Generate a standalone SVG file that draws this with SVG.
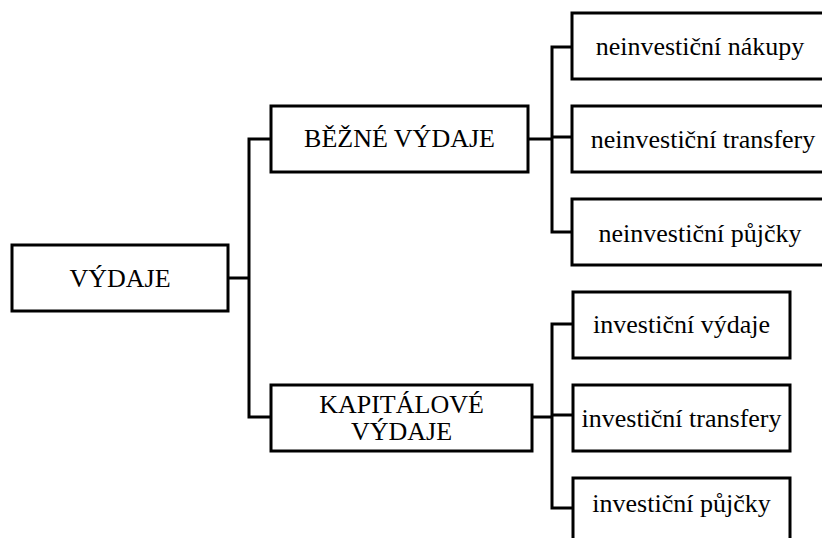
<svg xmlns="http://www.w3.org/2000/svg" width="822" height="538" viewBox="0 0 822 538">
<style>
.box{fill:#fff;stroke:#000;stroke-width:3}
.ln{fill:none;stroke:#000;stroke-width:3}
text{font-family:"Liberation Serif","Times New Roman",serif;font-size:26px;fill:#000;text-anchor:middle}
</style>
<rect width="822" height="538" fill="#fff"/>
<g id="connectors">
<path class="ln" d="M228,278 H249 M271,139 H249 V417 H271"/>
<path class="ln" d="M528,139 H552 M572,47 H552 V232 H572 M552,137 H572"/>
<path class="ln" d="M532,417 H552 M573,324 H552 V508 H573 M552,415 H573"/>
</g>
<g id="vydaje"><rect class="box" x="12" y="245" width="216" height="66"/><text x="120" y="287">VÝDAJE</text></g>
<g id="bezne"><rect class="box" x="271" y="106" width="257" height="66"/><text x="399.5" y="147">BĚŽNÉ VÝDAJE</text></g>
<g id="kapitalove"><rect class="box" x="271" y="385" width="261" height="66"/><text x="401.5" y="413">KAPITÁLOVÉ</text><text x="401.5" y="440">VÝDAJE</text></g>
<g id="n-nakupy"><rect class="box" x="572" y="13" width="254" height="66"/><text x="700" y="55">neinvestiční nákupy</text></g>
<g id="n-transfery"><rect class="box" x="572" y="106" width="254" height="66"/><text x="703" y="148">neinvestiční transfery</text></g>
<g id="n-pujcky"><rect class="box" x="572" y="199" width="254" height="66"/><text x="700" y="242">neinvestiční půjčky</text></g>
<g id="i-vydaje"><rect class="box" x="573" y="292" width="217" height="66"/><text x="681.5" y="333">investiční výdaje</text></g>
<g id="i-transfery"><rect class="box" x="573" y="385" width="217" height="66"/><text x="681.5" y="427">investiční transfery</text></g>
<g id="i-pujcky"><rect class="box" x="573" y="478" width="217" height="66"/><text x="681.5" y="512">investiční půjčky</text></g>
</svg>
